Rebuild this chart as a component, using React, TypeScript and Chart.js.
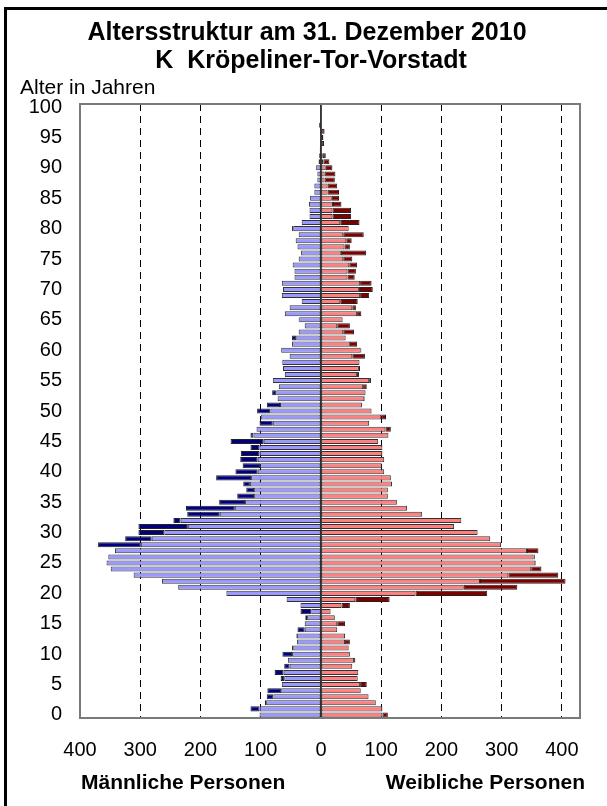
import React, { useEffect, useRef } from "react";
import { Chart, registerables } from "chart.js";

Chart.register(...registerables);

// Age categories 0..100
const ages: string[] = Array.from({ length: 101 }, (_, i) => String(i));

// Male persons by age (0..100)
const male: number[] = [
  102, 117, 93, 90, 89, 65, 67, 77, 61, 55,
  64, 48, 40, 41, 39, 27, 26, 34, 34, 57,
  157, 237, 264, 311, 349, 356, 353, 342, 370, 325,
  303, 303, 245, 222, 224, 169, 139, 124, 129, 174,
  142, 130, 134, 133, 117, 150, 117, 107, 102, 100,
  106, 90, 72, 81, 70, 80, 60, 63, 65, 52,
  66, 48, 48, 37, 27, 37, 60, 52, 32, 65,
  63, 65, 44, 44, 47, 37, 33, 39, 42, 37,
  48, 32, 19, 19, 20, 18, 11, 11, 6, 6,
  8, 4, 3, 2, 0, 0, 0, 3, 0, 0, 0,
];

// Female persons by age (0..100)
const female: number[] = [
  111, 102, 91, 79, 66, 76, 61, 62, 52, 57,
  48, 46, 48, 40, 27, 40, 23, 16, 48, 114,
  276, 326, 406, 394, 366, 357, 355, 361, 299, 281,
  260, 221, 233, 168, 143, 126, 111, 111, 118, 116,
  105, 101, 105, 102, 102, 95, 112, 116, 80, 108,
  84, 68, 73, 74, 76, 83, 63, 65, 64, 73,
  67, 60, 41, 55, 48, 36, 67, 58, 61, 80,
  86, 84, 56, 58, 60, 52, 75, 48, 51, 71,
  46, 64, 50, 50, 34, 30, 30, 27, 23, 24,
  19, 14, 8, 1, 5, 4, 6, 1, 1, 1, 0,
];

const xTickValues: number[] = [-400, -300, -200, -100, 0, 100, 200, 300, 400];

const titleLine1 = "Altersstruktur am 31. Dezember 2010";
const titleLine2 = "K  Kröpeliner-Tor-Vorstadt";
const yAxisTitle = "Alter in Jahren";
const maleLabel = "Männliche Personen";
const femaleLabel = "Weibliche Personen";

const FONT = "'Liberation Sans', Arial, Helvetica, sans-serif";

export default function App() {
  const ref = useRef<HTMLCanvasElement | null>(null);

  useEffect(() => {
    if (!ref.current) return;

    const common = male.map((m, i) => Math.min(m, female[i]));
    const maleCommon = common.map((c) => -c);
    const maleExcess = male.map((m, i) => -(m - common[i]));
    const femaleCommon = common.slice();
    const femaleExcess = female.map((f, i) => f - common[i]);

    const decor = {
      id: "decor",
      afterDatasetsDraw(chart: any) {
        const { ctx, chartArea, scales } = chart;
        const x0 = scales.x.getPixelForValue(0);
        ctx.save();
        ctx.strokeStyle = "#000";
        ctx.lineWidth = 1.5;
        ctx.beginPath();
        ctx.moveTo(x0, chartArea.top);
        ctx.lineTo(x0, chartArea.bottom);
        ctx.stroke();
        // plot frame
        ctx.strokeStyle = "#7a7a7a";
        ctx.lineWidth = 2;
        ctx.strokeRect(
          chartArea.left,
          chartArea.top,
          chartArea.right - chartArea.left,
          chartArea.bottom - chartArea.top
        );
        ctx.restore();
      },
      afterDraw(chart: any) {
        const { ctx } = chart;
        ctx.save();
        // outer frame (left + top)
        ctx.strokeStyle = "#000";
        ctx.lineWidth = 3;
        ctx.beginPath();
        ctx.moveTo(5.5, 820);
        ctx.lineTo(5.5, 8.5);
        ctx.lineTo(620, 8.5);
        ctx.stroke();

        ctx.fillStyle = "#000";
        ctx.textBaseline = "middle";
        ctx.font = `bold 25px ${FONT}`;
        ctx.textAlign = "center";
        ctx.fillText(titleLine1, 307, 33);
        ctx.fillText(titleLine2, 311, 61);

        ctx.font = `21px ${FONT}`;
        ctx.textAlign = "left";
        ctx.fillText(yAxisTitle, 20, 88);

        ctx.font = `bold 21px ${FONT}`;
        ctx.textAlign = "left";
        ctx.fillText(maleLabel, 81, 783);
        ctx.textAlign = "right";
        ctx.fillText(femaleLabel, 585, 783);
        ctx.restore();
      },
    };

    const chart = new Chart(ref.current, {
      type: "bar",
      data: {
        labels: ages,
        datasets: [
          {
            label: "m",
            data: maleCommon,
            backgroundColor: "#9999ff",
            borderColor: "#333",
            borderWidth: 1,
            borderSkipped: false,
          },
          {
            label: "m+",
            data: maleExcess,
            backgroundColor: "#000080",
            borderColor: "#222",
            borderWidth: 1,
            borderSkipped: false,
          },
          {
            label: "f",
            data: femaleCommon,
            backgroundColor: "#ff8080",
            borderColor: "#333",
            borderWidth: 1,
            borderSkipped: false,
          },
          {
            label: "f+",
            data: femaleExcess,
            backgroundColor: "#800000",
            borderColor: "#222",
            borderWidth: 1,
            borderSkipped: false,
          },
        ],
      },
      options: {
        indexAxis: "y",
        responsive: false,
        animation: false,
        events: [],
        datasets: {
          bar: {
            barPercentage: 0.92,
            categoryPercentage: 0.9,
          },
        },
        layout: {
          padding: { top: 104, right: 27, left: 0, bottom: 0 },
        },
        plugins: {
          legend: { display: false },
          tooltip: { enabled: false },
          title: { display: false },
        },
        scales: {
          x: {
            type: "linear",
            stacked: true,
            min: -400,
            max: 430,
            afterBuildTicks(scale: any) {
              scale.ticks = xTickValues.map((v) => ({ value: v }));
            },
            afterFit(scale: any) {
              scale.height = 88;
            },
            ticks: {
              autoSkip: false,
              padding: 20,
              color: "#000",
              font: { family: FONT, size: 20 },
              callback: (v: any) => String(Math.abs(Number(v))),
            },
            grid: {
              drawTicks: false,
              color: (c: any) =>
                c.tick && c.tick.value === 0 ? "rgba(0,0,0,0)" : "#000",
              lineWidth: 1,
            },
            border: { display: false, dash: [7, 5] },
          },
          y: {
            type: "category",
            stacked: true,
            reverse: true,
            afterFit(scale: any) {
              scale.width = 80;
            },
            ticks: {
              autoSkip: false,
              padding: 18,
              color: "#000",
              font: { family: FONT, size: 20 },
              callback: (_v: any, i: number) => (i % 5 === 0 ? ages[i] : ""),
            },
            grid: { display: false, drawTicks: false },
            border: { display: false },
          },
        },
      },
      plugins: [decor],
    } as any);

    return () => chart.destroy();
  }, []);

  return (
    <div
      style={{
        position: "absolute",
        left: 0,
        top: 0,
        width: 607,
        height: 806,
        overflow: "hidden",
        background: "#fff",
      }}
    >
      <canvas ref={ref} width={607} height={806} style={{ width: 607, height: 806 }} />
    </div>
  );
}
